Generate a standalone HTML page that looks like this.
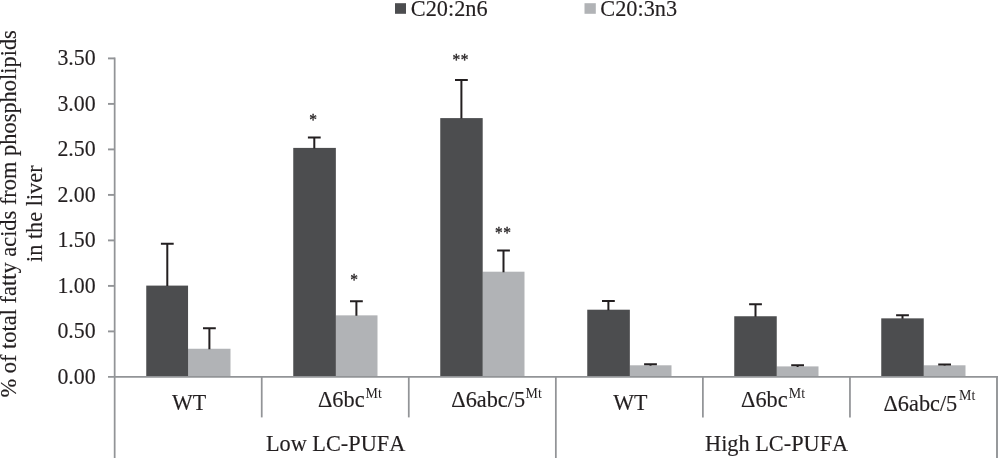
<!DOCTYPE html>
<html lang="en"><head><meta charset="utf-8"><title>Fatty acids chart</title>
<style>
html,body{margin:0;padding:0;background:#fff;}
body{width:998px;height:458px;overflow:hidden;}
svg{display:block;}
text{font-family:"Liberation Serif","Times New Roman",serif;fill:#231f20;stroke:#231f20;stroke-width:0.15px;font-kerning:none;}
.sup{stroke:none;}
</style></head><body>
<svg width="998" height="458" viewBox="0 0 998 458">
<rect width="998" height="458" fill="#fff"/>
<rect x="187.85" y="348.75" width="42.65" height="28.1" fill="#b1b3b6"/>
<rect x="146.25" y="285.6" width="41.8" height="91.3" fill="#4c4d4f"/>
<rect x="335.65" y="315.35" width="41.85" height="61.5" fill="#b1b3b6"/>
<rect x="293.25" y="147.9" width="42.6" height="229.0" fill="#4c4d4f"/>
<rect x="482.50" y="271.7" width="42.00" height="105.2" fill="#b1b3b6"/>
<rect x="440.25" y="118.1" width="42.45" height="258.8" fill="#4c4d4f"/>
<rect x="629.65" y="365.3" width="41.85" height="11.6" fill="#b1b3b6"/>
<rect x="587.25" y="309.7" width="42.6" height="67.2" fill="#4c4d4f"/>
<rect x="776.55" y="366.4" width="41.95" height="10.5" fill="#b1b3b6"/>
<rect x="734.25" y="316.25" width="42.5" height="60.6" fill="#4c4d4f"/>
<rect x="923.55" y="365.3" width="41.95" height="11.6" fill="#b1b3b6"/>
<rect x="881.25" y="318.35" width="42.5" height="58.5" fill="#4c4d4f"/>
<path d="M167.3 286.1 V243.8 M160.9 243.8 H173.7" stroke="#231f20" stroke-width="2" fill="none"/>
<path d="M209.4 349.25 V328.3 M203.0 328.3 H215.8" stroke="#231f20" stroke-width="2" fill="none"/>
<path d="M314.3 148.4 V137.6 M307.9 137.6 H320.7" stroke="#231f20" stroke-width="2" fill="none"/>
<path d="M356.4 315.85 V301.2 M350.0 301.2 H362.8" stroke="#231f20" stroke-width="2" fill="none"/>
<path d="M461.4 118.6 V79.95 M455.0 79.95 H467.8" stroke="#231f20" stroke-width="2" fill="none"/>
<path d="M503.5 272.2 V250.4 M497.1 250.4 H509.9" stroke="#231f20" stroke-width="2" fill="none"/>
<path d="M608.4 310.2 V301.1 M602.0 301.1 H614.8" stroke="#231f20" stroke-width="2" fill="none"/>
<path d="M650.5 365.8 V364.2 M644.1 364.2 H656.9" stroke="#231f20" stroke-width="2" fill="none"/>
<path d="M755.5 316.75 V304.2 M749.1 304.2 H761.9" stroke="#231f20" stroke-width="2" fill="none"/>
<path d="M797.6 366.9 V365.2 M791.2 365.2 H804.0" stroke="#231f20" stroke-width="2" fill="none"/>
<path d="M902.5 318.85 V315.2 M896.1 315.2 H908.9" stroke="#231f20" stroke-width="2" fill="none"/>
<path d="M944.6 365.8 V364.5 M938.2 364.5 H951.0" stroke="#231f20" stroke-width="2" fill="none"/>
<g stroke="#929497" stroke-width="1.9" fill="none">
<path d="M114.67 57.5 V458" stroke-width="1.75"/>
<path d="M108 376.9 H998"/>
<path d="M108 331.4 H114.67"/>
<path d="M108 285.9 H114.67"/>
<path d="M108 240.4 H114.67"/>
<path d="M108 194.9 H114.67"/>
<path d="M108 149.4 H114.67"/>
<path d="M108 103.9 H114.67"/>
<path d="M108 58.4 H114.67"/>
<path d="M261.73 376.9 V417.4" stroke-width="1.75"/>
<path d="M408.78 376.9 V417.4" stroke-width="1.75"/>
<path d="M555.84 376.9 V458" stroke-width="1.75"/>
<path d="M702.89 376.9 V417.4" stroke-width="1.75"/>
<path d="M849.95 376.9 V417.4" stroke-width="1.75"/>
<path d="M997.00 376.9 V458" stroke-width="1.9"/>
</g>
<text transform="translate(95.6,383.6) scale(1,1.062)" font-size="22.3" text-anchor="end" textLength="38.2" lengthAdjust="spacingAndGlyphs">0.00</text>
<text transform="translate(95.6,338.1) scale(1,1.062)" font-size="22.3" text-anchor="end" textLength="38.2" lengthAdjust="spacingAndGlyphs">0.50</text>
<text transform="translate(95.6,292.6) scale(1,1.062)" font-size="22.3" text-anchor="end" textLength="38.2" lengthAdjust="spacingAndGlyphs">1.00</text>
<text transform="translate(95.6,247.1) scale(1,1.062)" font-size="22.3" text-anchor="end" textLength="38.2" lengthAdjust="spacingAndGlyphs">1.50</text>
<text transform="translate(95.6,201.6) scale(1,1.062)" font-size="22.3" text-anchor="end" textLength="38.2" lengthAdjust="spacingAndGlyphs">2.00</text>
<text transform="translate(95.6,156.1) scale(1,1.062)" font-size="22.3" text-anchor="end" textLength="38.2" lengthAdjust="spacingAndGlyphs">2.50</text>
<text transform="translate(95.6,110.6) scale(1,1.062)" font-size="22.3" text-anchor="end" textLength="38.2" lengthAdjust="spacingAndGlyphs">3.00</text>
<text transform="translate(95.6,65.1) scale(1,1.062)" font-size="22.3" text-anchor="end" textLength="38.2" lengthAdjust="spacingAndGlyphs">3.50</text>
<text transform="translate(16.3,213.8) rotate(-90)" font-size="22.3" text-anchor="middle" textLength="367.3" lengthAdjust="spacingAndGlyphs">% of total fatty acids from phospholipids</text>
<text transform="translate(42.3,213.7) rotate(-90)" font-size="22.3" text-anchor="middle">in the liver</text>
<rect x="395" y="3.2" width="11" height="10.6" fill="#4c4d4f"/>
<text transform="translate(410.8,15.6) scale(1,1.06)" font-size="22.3">C20:2n6</text>
<rect x="584.5" y="3.2" width="11.3" height="10.6" fill="#b1b3b6"/>
<text transform="translate(600.3,15.6) scale(1,1.06)" font-size="22.3">C20:3n3</text>
<text x="189" y="410.3" font-size="22.3" text-anchor="middle" textLength="34.2" lengthAdjust="spacingAndGlyphs">WT</text>
<text x="630.3" y="410.2" font-size="22.3" text-anchor="middle" textLength="34.2" lengthAdjust="spacingAndGlyphs">WT</text>
<text x="318.0" y="406.5" font-size="22.3">Δ6bc</text><text class="sup" x="365.5" y="398.0" font-size="13.6" textLength="16.3" lengthAdjust="spacingAndGlyphs">Mt</text>
<text x="451.3" y="406.5" font-size="22.3">Δ6abc/5</text><text class="sup" x="525.5" y="398.0" font-size="13.6" textLength="16.3" lengthAdjust="spacingAndGlyphs">Mt</text>
<text x="741.1" y="406.5" font-size="22.3">Δ6bc</text><text class="sup" x="788.8" y="398.0" font-size="13.6" textLength="16.3" lengthAdjust="spacingAndGlyphs">Mt</text>
<text x="883.5" y="411.0" font-size="22.3">Δ6abc/5</text><text class="sup" x="959.0" y="399.9" font-size="13.6" textLength="16.3" lengthAdjust="spacingAndGlyphs">Mt</text>
<text x="335.6" y="450.8" font-size="22.3" text-anchor="middle">Low LC-PUFA</text>
<text x="776.6" y="450.8" font-size="22.3" text-anchor="middle">High LC-PUFA</text>
<text style="stroke-width:0.35px" transform="translate(313.1,125.1) scale(0.91,1)" font-size="17" text-anchor="middle" letter-spacing="0">*</text>
<text style="stroke-width:0.35px" transform="translate(354.0,285.0) scale(0.91,1)" font-size="17" text-anchor="middle" letter-spacing="0">*</text>
<text style="stroke-width:0.35px" transform="translate(460.8,65.4) scale(0.91,1)" font-size="17" text-anchor="middle" letter-spacing="0.62">**</text>
<text style="stroke-width:0.35px" transform="translate(503.3,238.4) scale(0.91,1)" font-size="17" text-anchor="middle" letter-spacing="0.62">**</text>
</svg></body></html>
